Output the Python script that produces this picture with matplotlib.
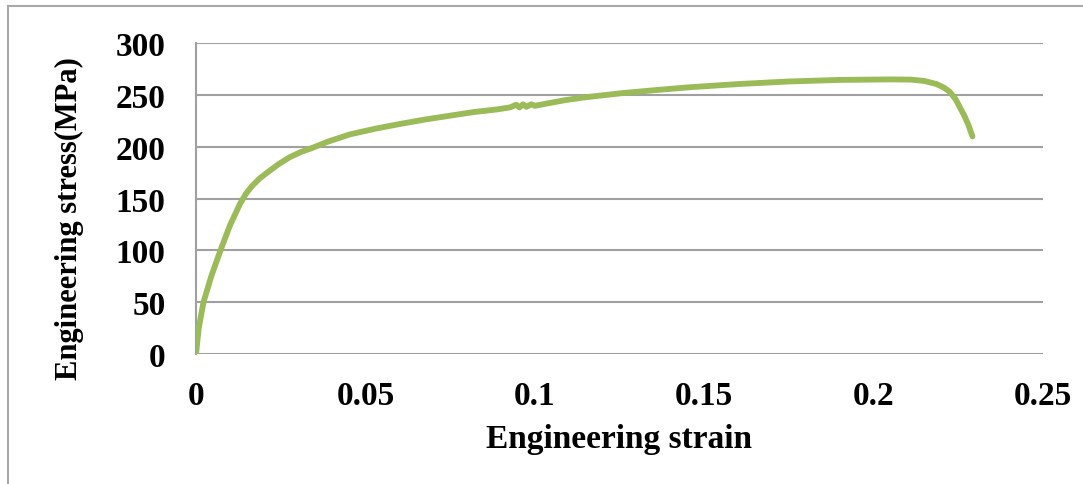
import matplotlib.pyplot as plt
from matplotlib.lines import Line2D

# values
strain = [0.0, 0.0008, 0.0022, 0.0045, 0.0071, 0.0100, 0.0130, 0.0148, 0.0165,
          0.0188, 0.0218, 0.0245, 0.0277, 0.0310, 0.0336, 0.0390, 0.0455,
          0.0530, 0.0602, 0.0680, 0.0750, 0.0820, 0.0888, 0.0927,
          0.0945, 0.0955, 0.0965, 0.0975, 0.0990, 0.1000, 0.1040, 0.1090,
          0.1143, 0.1250, 0.1350, 0.1460, 0.1600, 0.1750, 0.1900, 0.2050,
          0.2110, 0.2150, 0.2186, 0.2208, 0.2225, 0.2242, 0.2255, 0.2268,
          0.2280, 0.2292]
stress = [0, 25, 50, 75, 99, 124, 145, 155, 162,
          169.5, 177, 183.5, 190, 195, 198, 205, 212,
          217.5, 222, 226.5, 230, 233.5, 236, 238,
          240.5, 238, 241, 238.5, 241, 239.5, 242, 245,
          247.5, 251.5, 254.5, 257.5, 260.5, 263, 264.5, 265,
          264.8, 263.5, 260.5, 257, 253, 246, 238, 230,
          221, 210]

yticks = [0, 50, 100, 150, 200, 250, 300]
xticks = [0, 0.05, 0.1, 0.15, 0.2, 0.25]
xtick_labels = ['0', '0.05', '0.1', '0.15', '0.2', '0.25']

plt.rcParams['font.family'] = ['Liberation Serif', 'DejaVu Serif']
plt.rcParams['font.weight'] = 'bold'

fig = plt.figure(figsize=(10.83, 4.85), dpi=100)
ax = fig.add_axes([0.181, 0.268, 0.782, 0.641])

grid_col = '#A0A0A0'
for y in yticks:
    ax.axhline(y, color=grid_col, lw=1.5, zorder=1)

ax.plot(strain, stress, color='#9BBB59', lw=4.2, solid_capstyle='round',
        solid_joinstyle='round', zorder=3)

ax.set_xlim(0, 0.25)
ax.set_ylim(0, 300)
ax.set_xticks(xticks)
ax.set_xticklabels(xtick_labels)
ax.set_yticks(yticks)
for s in ['top', 'right', 'bottom']:
    ax.spines[s].set_visible(False)
ax.spines['left'].set_color(grid_col)
ax.spines['left'].set_linewidth(1.5)
ax.tick_params(axis='both', length=0, labelsize=24)
ax.tick_params(axis='x', pad=19)
ax.tick_params(axis='y', pad=22)

ax.set_xlabel('Engineering strain', fontsize=24, fontweight='bold')
ax.set_ylabel('Engineering stress(MPa)', fontsize=22, fontweight='bold')
ax.xaxis.set_label_coords(0.5, -0.222)
ax.yaxis.set_label_coords(-0.132, 0.44)

# outer chart border (left and top edges visible)
fig.add_artist(Line2D([8 / 1083, 8 / 1083], [0, 1 - 7 / 485],
                      transform=fig.transFigure, color='#A8A8A8', lw=1.5))
fig.add_artist(Line2D([8 / 1083, 1], [1 - 7 / 485, 1 - 7 / 485],
                      transform=fig.transFigure, color='#A8A8A8', lw=1.5))

fig.savefig('out.png', dpi=100)
